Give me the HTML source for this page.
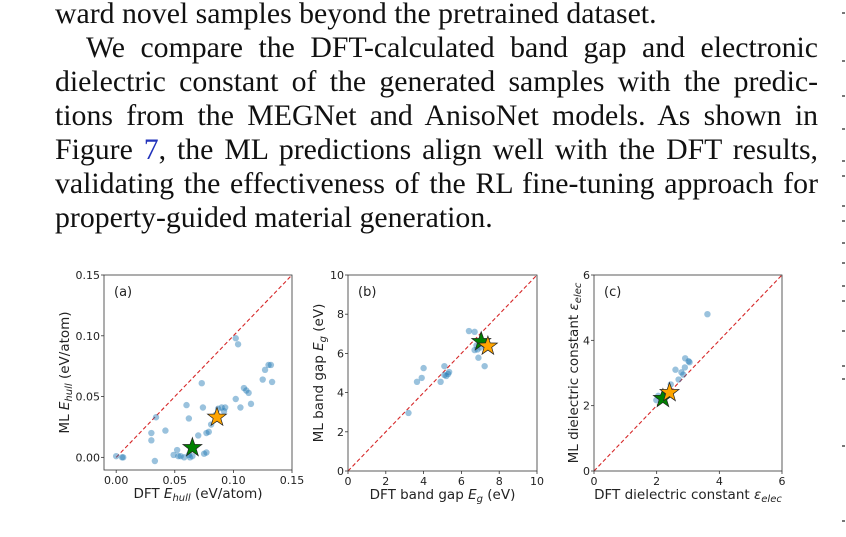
<!DOCTYPE html>
<html><head><meta charset="utf-8"><style>
body{margin:0;width:846px;height:537px;background:#fff;overflow:hidden;position:relative}
.ln{position:absolute;left:55px;width:763px;font-family:"Liberation Serif",serif;font-size:29.8px;line-height:34px;color:#111;white-space:nowrap;text-align:justify;text-align-last:justify}
.nl{text-align-last:left}
svg{position:absolute;left:0;top:0}
.tk{font-family:"DejaVu Sans","Liberation Sans",sans-serif;font-size:11px;fill:#222}
.al{font-family:"DejaVu Sans","Liberation Sans",sans-serif;font-size:13.5px;fill:#222}
.pl{font-family:"DejaVu Sans","Liberation Sans",sans-serif;font-size:13px;fill:#222}
</style></head><body>
<div class="ln nl" style="top:-3px">ward novel samples beyond the pretrained dataset.</div>
<div class="ln" style="top:31px;left:86px;width:732px">We compare the DFT-calculated band gap and electronic</div>
<div class="ln" style="top:65px">dielectric constant of the generated samples with the predic-</div>
<div class="ln" style="top:99px">tions from the MEGNet and AnisoNet models. As shown in</div>
<div class="ln" style="top:133px">Figure <span style="color:#2233bb">7</span>, the ML predictions align well with the DFT results,</div>
<div class="ln" style="top:167px">validating the effectiveness of the RL fine-tuning approach for</div>
<div class="ln nl" style="top:201px">property-guided material generation.</div>
<svg id="fig" width="846" height="537"></svg>
<script>
const aX=[0,0.005,0.006,0.03,0.03,0.033,0.034,0.042,0.049,0.052,0.053,0.055,0.058,0.062,0.063,0.065,0.06,0.062,0.07,0.073,0.074,0.075,0.077,0.077,0.079,0.081,0.085,0.087,0.09,0.092,0.093,0.102,0.102,0.104,0.106,0.109,0.111,0.113,0.115,0.125,0.127,0.13,0.132,0.133];
const aY=[0.001,0,0,0.02,0.014,-0.003,0.033,0.022,0.002,0.006,0.001,0.001,0,0.002,0.0,0.001,0.043,0.032,0.018,0.061,0.041,0.003,0.004,0.02,0.021,0.027,0.035,0.04,0.041,0.038,0.041,0.048,0.098,0.093,0.041,0.057,0.055,0.053,0.044,0.064,0.072,0.076,0.076,0.062];
const aStars=[[0.065,0.008,'green'],[0.086,0.033,'orange']];
const bX=[3.2,3.65,3.9,4.0,4.9,5.1,5.1,5.2,5.3,5.35,6.4,6.7,6.7,6.85,6.9,7.0,7.23,6.8];
const bY=[2.96,4.55,4.75,5.25,4.55,4.9,5.35,4.85,4.95,5.05,7.14,7.1,6.17,6.2,5.78,6.3,5.35,6.4];
const bStars=[[7.05,6.6,'green'],[7.4,6.37,'orange']];
const cX=[3.62,2.91,3.02,3.05,2.6,2.9,2.79,2.85,2.7,2.45,1.99,2.05,2.15];
const cY=[4.8,3.45,3.36,3.33,3.1,3.17,3.02,2.95,2.8,2.65,2.17,2.3,2.25];
const cStars=[[2.2,2.22,'green'],[2.41,2.4,'orange']];
const aTicks=['0.00','0.05','0.10','0.15'], aTickV=[0,0.05,0.1,0.15];
const bTickV=[0,2,4,6,8,10], cTickV=[0,2,4,6];
const NS='http://www.w3.org/2000/svg', svg=document.getElementById('fig');
function mk(t,a,p){const e=document.createElementNS(NS,t);for(const k in a)e.setAttribute(k,a[k]);(p||svg).appendChild(e);return e;}
function star(cx,cy,r){let s='';for(let i=0;i<10;i++){const rr=i%2?r*0.4:r,a=-Math.PI/2+i*Math.PI/5;s+=(cx+rr*Math.cos(a)).toFixed(1)+','+(cy+rr*Math.sin(a)).toFixed(1)+' ';}return s;}
function panel(o){
 const g=mk('g',{});
 
 
 const sx=v=>o.x0+(v-o.min)/(o.max-o.min)*(o.x1-o.x0);
 const sy=v=>o.y1-(v-o.min)/(o.max-o.min)*(o.y1-o.y0);
 const d=mk('line',{x1:sx(0),y1:sy(0),x2:sx(o.max),y2:sy(o.max),stroke:'#d62728','stroke-width':1.1,'stroke-dasharray':'4,2.5'},g);
 
 
 o.X.forEach((v,i)=>{const c=mk('circle',{cx:sx(v),cy:sy(o.Y[i]),r:3.2,fill:'#1f77b4','fill-opacity':0.45},g);
  
  });
 o.S.forEach(s=>{const p=mk('polygon',{points:star(sx(s[0]),sy(s[1]),10),fill:s[2],stroke:'#222','stroke-width':0.7},g);
  
  });
 const f=mk('rect',{x:o.x0,y:o.y0,width:o.x1-o.x0,height:o.y1-o.y0,fill:'none',stroke:'#333','stroke-width':0.8},g);
 
 
 o.T.forEach((v,i)=>{const lab=o.TL?o.TL[i]:String(v);
  mk('line',{x1:sx(v),x2:sx(v),y1:o.y1,y2:o.y1+3,stroke:'#333','stroke-width':0.8},g);
  mk('line',{x1:o.x0-3,x2:o.x0,y1:sy(v),y2:sy(v),stroke:'#333','stroke-width':0.8},g);
  const tx=mk('text',{x:sx(v),y:o.y1+14,'text-anchor':'middle',class:'tk'},g);tx.textContent=lab;
  
  
  const ty=mk('text',{x:o.x0-4,y:sy(v)+4,'text-anchor':'end',class:'tk'},g);ty.textContent=lab;
  
  });
 const pl=mk('text',{x:o.x0+10,y:o.y0+21,class:'pl'},g);pl.textContent=o.tag;
 
 
 const xl=mk('text',{x:(o.x0+o.x1)/2,y:o.y1+28,'text-anchor':'middle',class:'al'},g);xl.innerHTML=o.xl;
 
 
 const yl=mk('text',{x:0,y:0,'text-anchor':'middle',class:'al',transform:'translate('+o.ylx+','+(o.y0+o.y1)/2+') rotate(-90)'},g);yl.innerHTML=o.yl;
 
 
}
panel({name:'panel-a-ehull',x0:104,x1:292,y0:275,y1:470,min:-0.0104,max:0.15,X:aX,Y:aY,S:aStars,T:aTickV,TL:aTicks,tag:'(a)',
 xl:'DFT <tspan font-style="italic">E</tspan><tspan font-style="italic" font-size="10" dy="3">hull</tspan><tspan dy="-3"> (eV/atom)</tspan>',
 yl:'ML <tspan font-style="italic">E</tspan><tspan font-style="italic" font-size="10" dy="3">hull</tspan><tspan dy="-3"> (eV/atom)</tspan>',ylx:69});
panel({name:'panel-b-bandgap',x0:348,x1:537,y0:275,y1:471,min:0,max:10,X:bX,Y:bY,S:bStars,T:bTickV,tag:'(b)',
 xl:'DFT band gap <tspan font-style="italic">E</tspan><tspan font-style="italic" font-size="10" dy="3">g</tspan><tspan dy="-3"> (eV)</tspan>',
 yl:'ML band gap <tspan font-style="italic">E</tspan><tspan font-style="italic" font-size="10" dy="3">g</tspan><tspan dy="-3"> (eV)</tspan>',ylx:323});
panel({name:'panel-c-dielectric',x0:594,x1:782,y0:275,y1:471,min:0,max:6,X:cX,Y:cY,S:cStars,T:cTickV,tag:'(c)',
 xl:'DFT dielectric constant <tspan font-style="italic">ε</tspan><tspan font-style="italic" font-size="10" dy="3">elec</tspan>',
 yl:'ML dielectric constant <tspan font-style="italic">ε</tspan><tspan font-style="italic" font-size="10" dy="3">elec</tspan>',ylx:578});
[12,60,95,128,160,175,205,220,242,262,285,300,330,365,378,445,520].forEach(y=>{
 const r=mk('rect',{x:842,y:y,width:3,height:2,fill:'#777'});
 
 });
</script>
</body></html>
